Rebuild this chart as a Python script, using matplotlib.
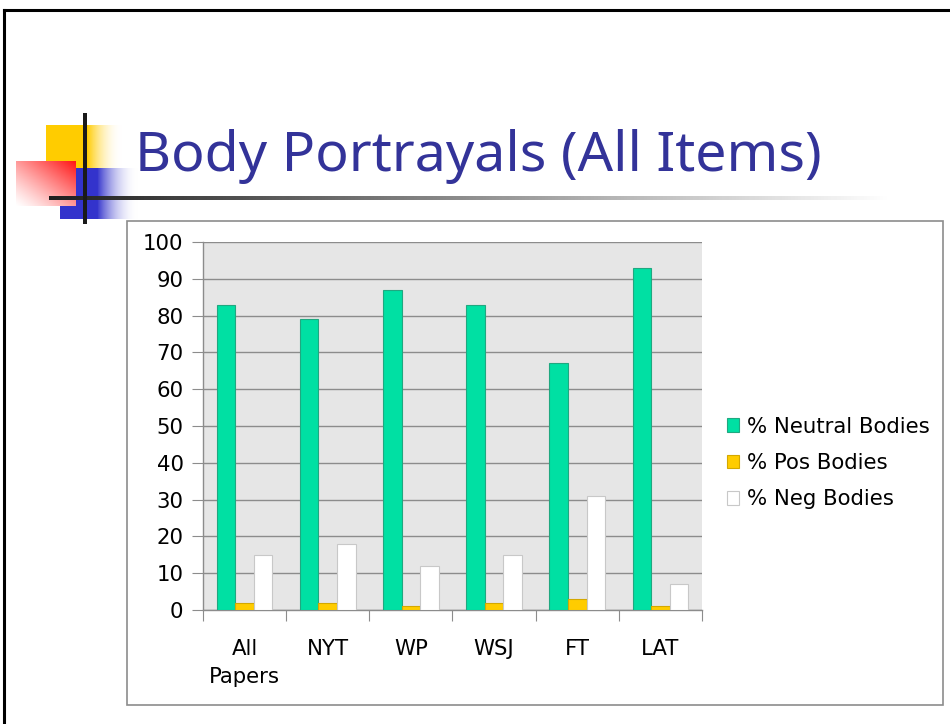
import numpy as np
import matplotlib
matplotlib.use("Agg")
import matplotlib.pyplot as plt
from matplotlib.patches import Rectangle
from matplotlib.lines import Line2D

categories = ["All\nPapers", "NYT", "WP", "WSJ", "FT", "LAT"]
series_names = ["% Neutral Bodies", "% Pos Bodies", "% Neg Bodies"]
neutral = [83, 79, 87, 83, 67, 93]
positive = [2, 2, 1, 2, 3, 1]
negative = [15, 18, 12, 15, 31, 7]
title = "Body Portrayals (All Items)"

W, H = 950, 724
fig = plt.figure(figsize=(W / 100, H / 100), dpi=100)
fig.patch.set_facecolor("white")

# overlay axes in pixel coords for slide decorations
ov = fig.add_axes([0, 0, 1, 1], zorder=0)
ov.set_xlim(0, W)
ov.set_ylim(H, 0)
ov.axis("off")

# slide border
ov.add_line(Line2D([4, 4], [10, H], color="black", lw=2.2))
ov.add_line(Line2D([4, W], [10, 10], color="black", lw=2.2))

def grad_img(c0, c1, n=256):
    t = np.linspace(0, 1, n)
    c0 = np.array(c0); c1 = np.array(c1)
    return c0[None, None, :] * (1 - t)[None, :, None] + c1[None, None, :] * t[None, :, None]

yellow = (1.0, 0.8, 0.0, 1.0)
blue = (0.2, 0.2, 0.8, 1.0)
white0 = (1.0, 1.0, 1.0, 0.0)

# yellow square with fading right part
ov.add_patch(Rectangle((46, 125), 42, 43, color=yellow, lw=0, zorder=1))
ov.imshow(grad_img(yellow, white0), extent=(87, 122, 168, 125), aspect="auto", zorder=1)
# blue square with fade
ov.add_patch(Rectangle((60, 168), 38, 51, color=blue, lw=0, zorder=2))
ov.imshow(grad_img(blue, white0), extent=(97, 138, 219, 168), aspect="auto", zorder=2)
# red gradient square (red at top-right, white toward bottom-left), opaque
n = 128
xx, yy = np.meshgrid(np.linspace(0, 1, n), np.linspace(0, 1, n))
tt = np.clip((xx + (1 - yy)) / 2, 0, 1) ** 1.2
red_img = np.ones((n, n, 4))
red_img[..., 0] = 1.0
red_img[..., 1] = 1 - tt * 0.92
red_img[..., 2] = 1 - tt * 0.92
ov.imshow(red_img, extent=(16, 76, 206, 161), aspect="auto", zorder=3)
# horizontal gradient line
line_img = grad_img((0.12, 0.12, 0.12, 1), (1, 1, 1, 1))
ov.imshow(line_img, extent=(49, 890, 200, 196), aspect="auto", zorder=4)
# vertical line
ov.add_patch(Rectangle((83, 113), 4, 111, color="#1a1a1a", lw=0, zorder=5))

ov.text(135, 171, title, fontsize=40, color="#333399", ha="left", va="baseline",
        family="Noto Sans", zorder=6)

# chart box
ov.add_patch(Rectangle((127, 221), 816, 484, fill=False, edgecolor="#8c8c8c", lw=1.2, zorder=1))

# main chart
ax = fig.add_axes([203 / W, 1 - 610 / H, (702 - 203) / W, (610 - 242) / H], zorder=2)
ax.set_facecolor("#e6e6e6")
x = np.arange(len(categories))
bw = 0.223
b1 = ax.bar(x - bw, neutral, bw, color="#00e0a3", edgecolor="#20a880", lw=0.8, zorder=3,
            label=series_names[0])
b2 = ax.bar(x, positive, bw, color="#ffcc00", edgecolor="#d4a800", lw=0.8, zorder=3,
            label=series_names[1])
b3 = ax.bar(x + bw, negative, bw, color="white", edgecolor="#c8c8c8", lw=0.8, zorder=3,
            label=series_names[2])
ax.set_xlim(-0.5, len(categories) - 0.5)
ax.set_ylim(0, 100)
ax.set_yticks(np.arange(0, 101, 10))
ax.grid(axis="y", color="#8c8c8c", lw=1.0, zorder=1)
ax.set_axisbelow(True)
for s in ["top", "right"]:
    ax.spines[s].set_visible(False)
for s in ["left", "bottom"]:
    ax.spines[s].set_color("#8c8c8c")
    ax.spines[s].set_linewidth(1.0)
ax.tick_params(axis="y", length=8, color="#8c8c8c", labelsize=15.3, pad=6, labelcolor="black")
ax.set_xticks(np.arange(-0.5, len(categories), 1))
ax.set_xticklabels([])
ax.tick_params(axis="x", which="major", length=8, color="#8c8c8c")
ax.set_xticks(x, minor=True)
ax.set_xticklabels(categories, minor=True, fontsize=15.3, va="top", linespacing=1.5)
ax.tick_params(axis="x", which="minor", length=0, pad=21)

fig.legend(handles=[b1, b2, b3], labels=series_names, loc="center left",
           bbox_to_anchor=(716 / W, 1 - 463 / H), frameon=False, fontsize=15.3,
           handlelength=0.6, handleheight=0.6, handletextpad=0.35, labelspacing=0.77,
           borderpad=0)

fig.savefig("out.png", dpi=100, facecolor="white")
